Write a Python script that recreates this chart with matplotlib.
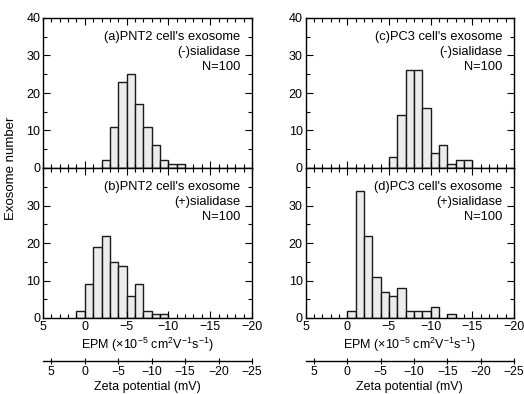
import matplotlib.pyplot as plt
from matplotlib.ticker import MultipleLocator

plt.rcParams['font.family'] = ['Liberation Sans', 'DejaVu Sans']
plt.rcParams['mathtext.fontset'] = 'custom'
plt.rcParams['mathtext.rm'] = 'Liberation Sans'
plt.rcParams['mathtext.it'] = 'Liberation Sans'

# bin centres (EPM, x10^-5 cm2/Vs) and counts per 1-unit bin
epm_a = [-2.5, -3.5, -4.5, -5.5, -6.5, -7.5, -8.5, -9.5, -10.5, -11.5]
cnt_a = [2, 11, 23, 25, 17, 11, 6, 2, 1, 1]

epm_b = [0.5, -0.5, -1.5, -2.5, -3.5, -4.5, -5.5, -6.5, -7.5, -8.5, -9.5]
cnt_b = [2, 9, 19, 22, 15, 14, 6, 9, 2, 1, 1]

epm_c = [-5.5, -6.5, -7.5, -8.5, -9.5, -10.5, -11.5, -12.5, -13.5, -14.5]
cnt_c = [3, 14, 26, 26, 16, 4, 6, 1, 2, 2]

epm_d = [-0.5, -1.5, -2.5, -3.5, -4.5, -5.5, -6.5, -7.5, -8.5, -9.5, -10.5, -12.5]
cnt_d = [2, 34, 22, 11, 7, 6, 8, 2, 2, 2, 3, 1]

zeta_ticks = [5, 0, -5, -10, -15, -20, -25]

labels = [
    "(a)PNT2 cell's exosome\n(-)sialidase\nN=100",
    "(c)PC3 cell's exosome\n(-)sialidase\nN=100",
    "(b)PNT2 cell's exosome\n(+)sialidase\nN=100",
    "(d)PC3 cell's exosome\n(+)sialidase\nN=100",
]

fig = plt.figure(figsize=(5.24, 3.94), dpi=100)
W, H = 524, 394

def add_ax(x0, x1, y0, y1):
    return fig.add_axes([x0 / W, 1 - y1 / H, (x1 - x0) / W, (y1 - y0) / H])

axes = [
    add_ax(43, 252, 18, 168),
    add_ax(305.5, 514, 18, 168),
    add_ax(43, 252, 168, 318),
    add_ax(305.5, 514, 168, 318),
]
data = [(epm_a, cnt_a), (epm_c, cnt_c), (epm_b, cnt_b), (epm_d, cnt_d)]

for i, (ax, (x, y)) in enumerate(zip(axes, data)):
    ax.bar(x, y, width=1, color='#ececec', edgecolor='#1a1a1a', linewidth=1.0)
    ax.set_xlim(5, -20)
    ax.set_ylim(0, 40)
    ax.xaxis.set_major_locator(MultipleLocator(5))
    ax.xaxis.set_minor_locator(MultipleLocator(1))
    ax.yaxis.set_major_locator(MultipleLocator(10))
    ax.yaxis.set_minor_locator(MultipleLocator(5))
    ax.tick_params(which='both', direction='in', top=True, right=True,
                   labelsize=9, pad=2)
    ax.tick_params(which='major', length=5, width=0.8)
    ax.tick_params(which='minor', length=3, width=0.8)
    for s in ax.spines.values():
        s.set_linewidth(1.0)
    ax.text(0.943, 0.915, labels[i], transform=ax.transAxes, ha='right',
            va='top', fontsize=9.3, linespacing=1.33, multialignment='right')
    if i < 2:
        ax.tick_params(labelbottom=False)
        ax.set_yticks([0, 10, 20, 30, 40])
    else:
        ax.set_yticks([0, 10, 20, 30])
        ax.set_xlabel('EPM (×10$^{-5}$ cm$^2$V$^{-1}$s$^{-1}$)', fontsize=9,
                      labelpad=2)
        sec = ax.secondary_xaxis(-0.287, functions=(lambda v: v * 1.25,
                                                    lambda v: v / 1.25))
        sec.set_xticks(zeta_ticks)
        sec.tick_params(direction='inout', length=5, width=0.8, labelsize=8.8,
                        pad=1)
        sec.spines['bottom'].set_linewidth(1.0)
        sec.set_xlabel('Zeta potential (mV)', fontsize=9, labelpad=2)

fig.text(11 / W, 1 - 168 / H, 'Exosome number', rotation=90, ha='center',
         va='center', fontsize=9.5)

fig.savefig('out.png', dpi=100)
